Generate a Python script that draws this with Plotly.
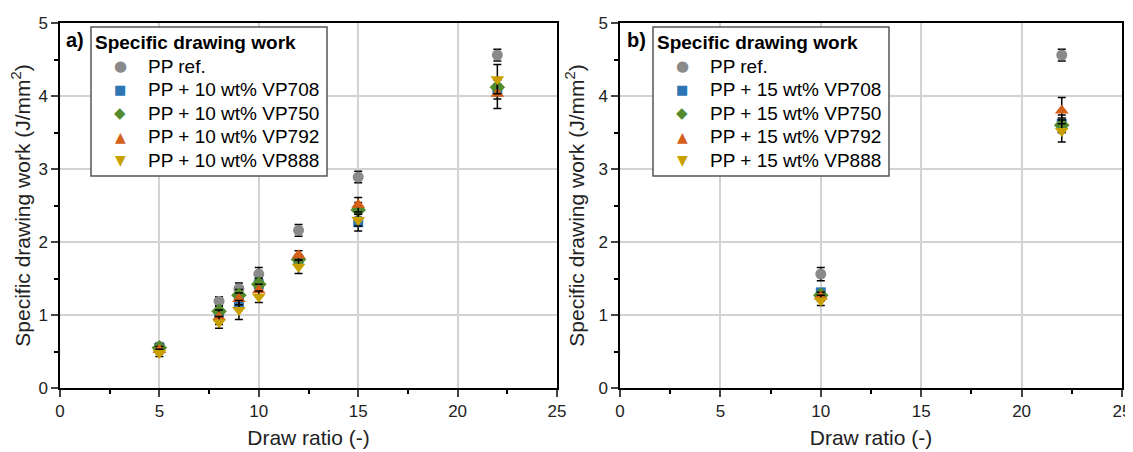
import plotly.graph_objects as go

# ---------------- data ----------------
x_left = [5, 8, 9, 10, 12, 15, 22]
ref_left = [0.57, 1.19, 1.36, 1.56, 2.16, 2.89, 4.56]
ref_left_err = [0.05, 0.06, 0.08, 0.09, 0.08, 0.08, 0.08]
vp708_left = [0.55, 1.00, 1.17, 1.42, 1.75, 2.27, 4.06]
vp708_left_err = [0.05, 0.08, 0.09, 0.08, 0.07, 0.12, 0.10]
vp750_left = [0.55, 1.05, 1.27, 1.42, 1.76, 2.44, 4.12]
vp750_left_err = [0.05, 0.07, 0.08, 0.08, 0.07, 0.10, 0.10]
vp792_left = [0.52, 0.97, 1.22, 1.34, 1.82, 2.51, 4.03]
vp792_left_err = [0.05, 0.10, 0.08, 0.08, 0.06, 0.10, 0.20]
vp888_left = [0.48, 0.90, 1.07, 1.25, 1.66, 2.30, 4.23]
vp888_left_err = [0.05, 0.08, 0.13, 0.08, 0.09, 0.08, 0.20]

x_right = [10, 22]
ref_right = [1.56, 4.56]
ref_right_err = [0.09, 0.08]
vp708_right = [1.31, 3.62]
vp708_right_err = [0.05, 0.12]
vp750_right = [1.27, 3.60]
vp750_right_err = [0.05, 0.10]
vp792_right = [1.25, 3.80]
vp792_right_err = [0.06, 0.18]
vp888_right = [1.20, 3.52]
vp888_right_err = [0.07, 0.15]

names_left = ["PP ref.", "PP + 10 wt% VP708", "PP + 10 wt% VP750",
              "PP + 10 wt% VP792", "PP + 10 wt% VP888"]
names_right = ["PP ref.", "PP + 15 wt% VP708", "PP + 15 wt% VP750",
               "PP + 15 wt% VP792", "PP + 15 wt% VP888"]
legend_title = "Specific drawing work"
panel_labels = ["a)", "b)"]

colors = ["#8a8a8a", "#2e75b6", "#548b2e", "#d4601a", "#c9a000"]
symbols = ["circle", "square", "diamond", "triangle-up", "triangle-down"]
glyphs = ["\u25CF", "\u25A0", "\u25C6", "\u25B2", "\u25BC"]
glyph_sizes = [15, 13, 15, 14, 14]
sizes = [11, 10, 12, 12, 12]

FONT = "Arial, 'Liberation Sans', sans-serif"
OFF = 8                       # default page (body) margin in the browser
W, H = 1133 - OFF, 452 - OFF


def px(p):
    return (p - OFF) / W


def py(p):
    return 1 - (p - OFF) / H


fig = go.Figure()

left_series = [(ref_left, ref_left_err), (vp708_left, vp708_left_err),
               (vp750_left, vp750_left_err), (vp792_left, vp792_left_err),
               (vp888_left, vp888_left_err)]
right_series = [(ref_right, ref_right_err), (vp708_right, vp708_right_err),
                (vp750_right, vp750_right_err), (vp792_right, vp792_right_err),
                (vp888_right, vp888_right_err)]

for i, (ys, es) in enumerate(left_series):
    fig.add_trace(go.Scatter(
        x=x_left, y=ys, mode="markers", name=names_left[i], showlegend=False,
        marker=dict(color=colors[i], symbol=symbols[i], size=sizes[i], line=dict(width=0)),
        error_y=dict(type="data", array=es, color="black", thickness=1.5, width=4),
        xaxis="x", yaxis="y"))

for i, (ys, es) in enumerate(right_series):
    fig.add_trace(go.Scatter(
        x=x_right, y=ys, mode="markers", name=names_right[i], showlegend=False,
        marker=dict(color=colors[i], symbol=symbols[i], size=sizes[i], line=dict(width=0)),
        error_y=dict(type="data", array=es, color="black", thickness=1.5, width=4),
        xaxis="x2", yaxis="y2"))

y_dom = [py(388), py(23)]
xl_dom = [px(60), px(557)]
xr_dom = [px(620), px(1122)]

xaxis_common = dict(
    range=[0, 25], dtick=5, tick0=0, ticks="outside", ticklen=7, tickwidth=1.5,
    showline=True, linecolor="black", linewidth=1.5, mirror=True, automargin=False,
    showgrid=True, gridcolor="#d3d3d3", gridwidth=1.5, zeroline=False,
    tickfont=dict(size=17, color="#222", family=FONT),
    minor=dict(dtick=2.5, ticks="outside", ticklen=4, tickwidth=1.5, tickcolor="black", showgrid=False),
    title=dict(text="Draw ratio (-)", font=dict(size=21, color="#222", family=FONT), standoff=10),
)
yaxis_common = dict(
    range=[0, 5], dtick=1, tick0=0, ticks="outside", ticklen=7, tickwidth=1.5,
    showline=True, linecolor="black", linewidth=1.5, mirror=True, automargin=False,
    showgrid=True, gridcolor="#d3d3d3", gridwidth=1.5, zeroline=False,
    tickfont=dict(size=17, color="#222", family=FONT),
    minor=dict(dtick=0.5, ticks="outside", ticklen=4, tickwidth=1.5, tickcolor="black", showgrid=False),
    title=dict(text="Specific drawing work (J/mm<sup>2</sup>)",
               font=dict(size=21, color="#222", family=FONT), standoff=8),
    domain=y_dom,
)

shapes = []
annotations = []
# manual legends (box, title, symbol glyphs, labels)
for box_left, names, label, label_x in [(91, names_left, panel_labels[0], 64),
                                         (653, names_right, panel_labels[1], 625)]:
    box_w, box_top, box_bot = 236, 27, 176
    shapes.append(dict(type="rect", xref="paper", yref="paper",
                       x0=px(box_left), x1=px(box_left + box_w),
                       y0=py(box_bot), y1=py(box_top),
                       line=dict(color="#555", width=1.5), fillcolor="white", layer="above"))
    annotations.append(dict(text="<b>" + legend_title + "</b>", x=px(box_left + 2), y=py(42),
                            xref="paper", yref="paper", xanchor="left", yanchor="middle",
                            showarrow=False, font=dict(size=19, color="black", family=FONT)))
    row_y = [66, 89.5, 113, 136.5, 160]
    for i, nm in enumerate(names):
        annotations.append(dict(text=glyphs[i], x=px(box_left + 29), y=py(row_y[i]),
                                xref="paper", yref="paper", xanchor="center", yanchor="middle",
                                showarrow=False,
                                font=dict(size=glyph_sizes[i], color=colors[i], family="DejaVu Sans")))
        annotations.append(dict(text=nm, x=px(box_left + 55), y=py(row_y[i]),
                                xref="paper", yref="paper", xanchor="left", yanchor="middle",
                                showarrow=False, font=dict(size=19, color="black", family=FONT)))
    annotations.append(dict(text="<b>" + label + "</b>", x=px(label_x), y=py(27),
                            xref="paper", yref="paper", xanchor="left", yanchor="top",
                            showarrow=False, font=dict(size=20, color="black", family=FONT)))

fig.update_layout(
    width=W, height=H,
    margin=dict(l=0, r=0, t=0, b=0),
    paper_bgcolor="white", plot_bgcolor="white",
    font=dict(family=FONT),
    showlegend=False,
    xaxis=dict(domain=xl_dom, anchor="y", **xaxis_common),
    yaxis=dict(anchor="x", **yaxis_common),
    xaxis2=dict(domain=xr_dom, anchor="y2", **xaxis_common),
    yaxis2=dict(anchor="x2", **yaxis_common),
    shapes=shapes,
    annotations=annotations,
)

fig.write_html("out.html")
